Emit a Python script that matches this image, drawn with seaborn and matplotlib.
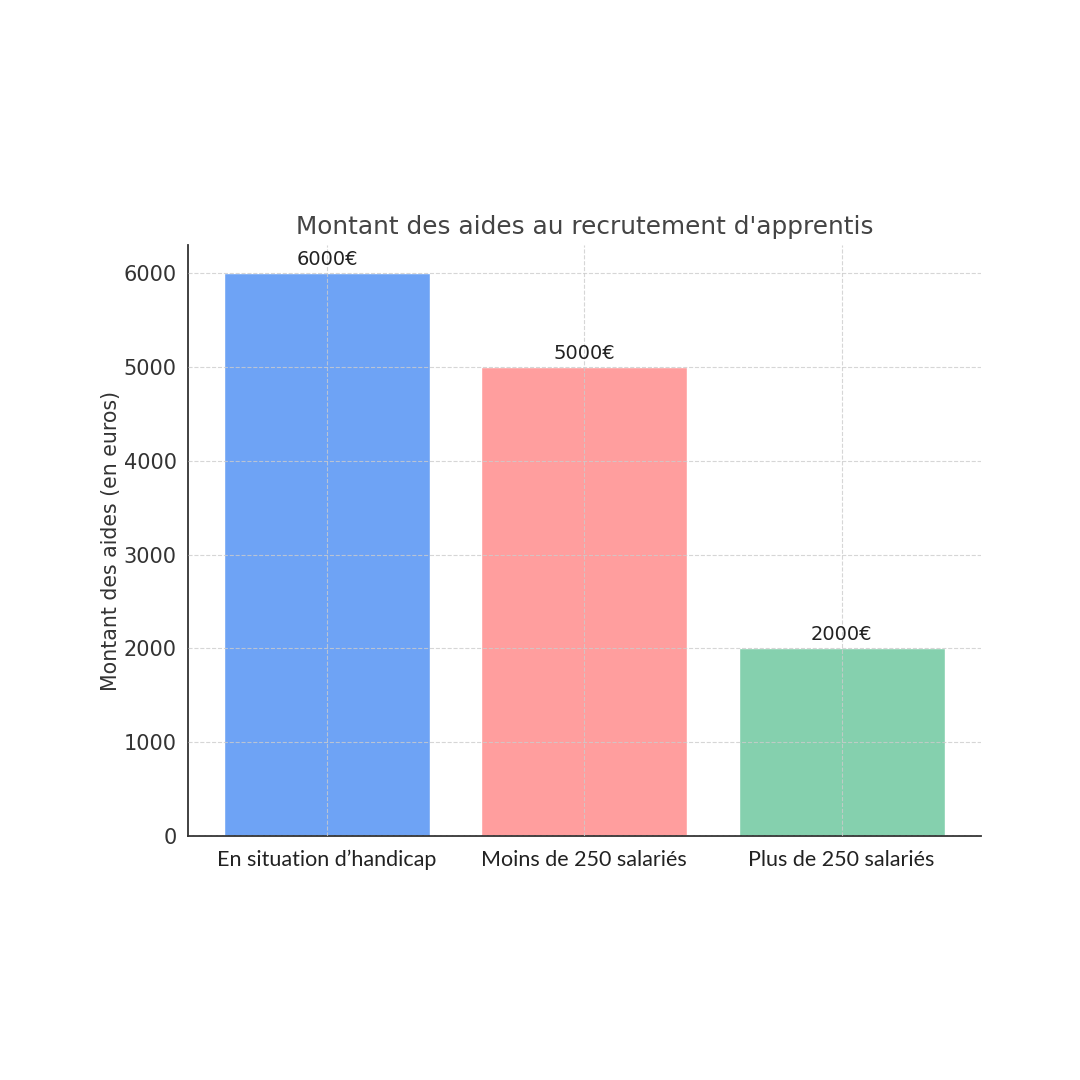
import matplotlib as mpl
mpl.use('agg')
import matplotlib.pyplot as plt
import pandas as pd
import seaborn as sns

# data
categories = ['En situation d\u2019handicap', 'Moins de 250 salariés', 'Plus de 250 salariés']
montants = [6000, 5000, 2000]
colors = ['#6ea3f5', '#ff9e9e', '#85d0ae']

df = pd.DataFrame({'categorie': categories, 'montant': montants})

sns.set_style('white')
plt.rcParams['font.family'] = ['DejaVu Sans']

fig = plt.figure(figsize=(10.8, 10.8), dpi=100)
ax = fig.add_axes([0.174, 0.226, 0.734, 0.547])

sns.barplot(data=df, x='categorie', y='montant', hue='categorie', palette=colors,
            legend=False, width=0.8, saturation=1, ax=ax)

# grid over the bars
ax.set_axisbelow(False)
ax.grid(True, color='#cccccc', linestyle='--', linewidth=0.8, alpha=0.8)

for cont in ax.containers:
    ax.bar_label(cont, fmt='{:.0f}€', padding=3, fontsize=14, color='#222222')

ax.set_ylim(0, 6300)
ax.set_xlim(-0.54, 2.54)
ax.set_yticks([0, 1000, 2000, 3000, 4000, 5000, 6000])

ax.set_title("Montant des aides au recrutement d'apprentis", fontsize=17.8, color='#444444', pad=8)
ax.set_ylabel('Montant des aides (en euros)', fontsize=14.8, color='#333333', labelpad=2)
ax.set_xlabel('')

ax.tick_params(axis='y', labelsize=15, labelcolor='#333333', length=0, pad=8)
ax.tick_params(axis='x', labelsize=15.5, labelcolor='#222222', direction='in', length=5,
               color='#555555', pad=10)
for lab in ax.get_xticklabels():
    lab.set_family('Lato')

for side in ['top', 'right']:
    ax.spines[side].set_visible(False)
for side in ['left', 'bottom']:
    ax.spines[side].set_color('#333333')
    ax.spines[side].set_linewidth(1.3)

plt.savefig('out.png', dpi=100)
